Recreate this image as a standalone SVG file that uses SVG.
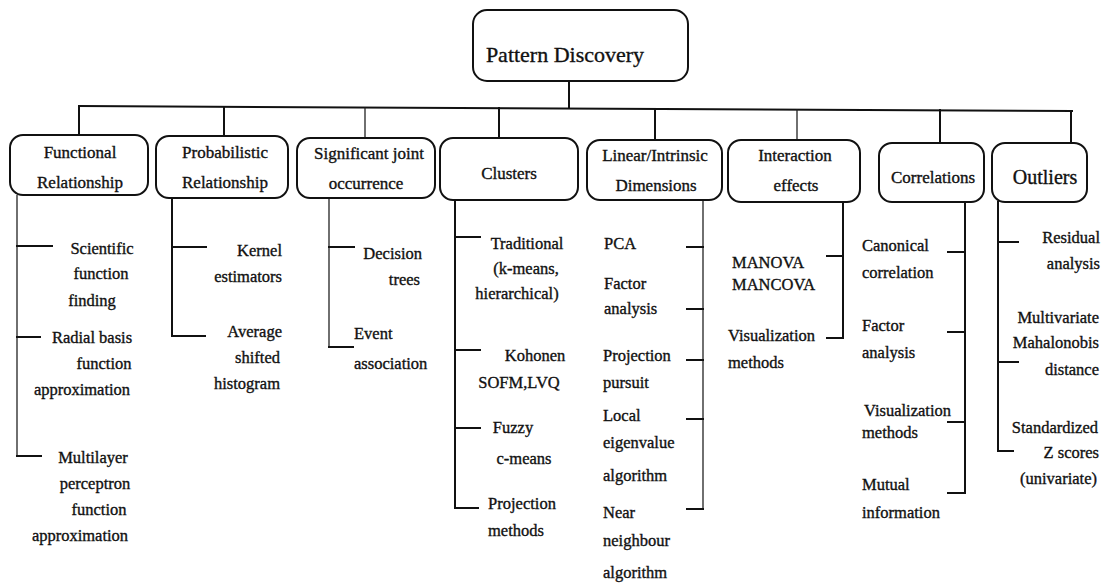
<svg xmlns="http://www.w3.org/2000/svg" width="1107" height="584" viewBox="0 0 1107 584">
  <style>
    .box { fill: #ffffff; stroke: #111; stroke-width: 2; }
    .ln { stroke: #111; stroke-width: 2; fill: none; stroke-linecap: square; }
    .thin { stroke: #222; stroke-width: 1.3; fill: none; }
    text { font-family: "Liberation Serif", "Times New Roman", serif; fill: #111; stroke: #111; stroke-width: 0.35; }
    .t0 { font-size: 22px; text-anchor: middle; }
    .t1 { font-size: 17px; text-anchor: middle; }
    .t1b { font-size: 20px; text-anchor: middle; }
    .c { font-size: 16.5px; text-anchor: middle; }
    .s { font-size: 16.5px; text-anchor: start; }
    .e { font-size: 16.5px; text-anchor: end; }
  </style>

  <rect width="1107" height="584" fill="#ffffff"/>

  <!-- connectors: root stem, bus, drops and child brackets -->
  <g id="connectors">
    <line class="ln" x1="569" y1="81" x2="569" y2="107"/>
    <line class="ln" x1="79" y1="106" x2="1072" y2="111"/>
    <line class="ln" x1="79" y1="106" x2="79" y2="135"/>
    <line class="ln" x1="224" y1="107" x2="224" y2="136"/>
    <line class="thin" x1="365" y1="107.5" x2="365" y2="138"/>
    <line class="ln" x1="499" y1="108" x2="499" y2="138"/>
    <line class="ln" x1="655" y1="109" x2="655" y2="140"/>
    <line class="thin" x1="797" y1="109.5" x2="797" y2="140"/>
    <line class="ln" x1="940" y1="110" x2="940" y2="143"/>
    <line class="ln" x1="1071" y1="111" x2="1071" y2="143"/>

    <!-- Functional Relationship -->
    <line class="thin" x1="17" y1="195" x2="17" y2="457"/>
    <line class="ln" x1="17" y1="246" x2="52" y2="246"/>
    <line class="ln" x1="17" y1="337" x2="40" y2="337"/>
    <line class="ln" x1="17" y1="456" x2="41" y2="456"/>

    <!-- Probabilistic Relationship -->
    <line class="ln" x1="172" y1="198" x2="172" y2="336"/>
    <line class="ln" x1="172" y1="247" x2="206" y2="247"/>
    <line class="ln" x1="172" y1="336" x2="205" y2="336"/>

    <!-- Significant joint occurrence -->
    <line class="thin" x1="329" y1="198" x2="329" y2="347"/>
    <line class="ln" x1="329" y1="247" x2="354" y2="247"/>
    <line class="ln" x1="329" y1="347" x2="353" y2="347"/>

    <!-- Clusters -->
    <line class="ln" x1="455" y1="200" x2="455" y2="508"/>
    <line class="ln" x1="455" y1="237" x2="480" y2="237"/>
    <line class="ln" x1="455" y1="350" x2="480" y2="350"/>
    <line class="ln" x1="455" y1="428" x2="480" y2="428"/>
    <line class="ln" x1="455" y1="508" x2="478" y2="508"/>

    <!-- Linear/Intrinsic Dimensions -->
    <line class="thin" x1="703" y1="200" x2="703" y2="509"/>
    <line class="ln" x1="687" y1="247" x2="703" y2="247"/>
    <line class="ln" x1="687" y1="309" x2="703" y2="309"/>
    <line class="ln" x1="687" y1="360" x2="703" y2="360"/>
    <line class="ln" x1="687" y1="419" x2="703" y2="419"/>
    <line class="ln" x1="687" y1="509" x2="703" y2="509"/>

    <!-- Interaction effects -->
    <line class="ln" x1="843" y1="202" x2="843" y2="338"/>
    <line class="ln" x1="827" y1="256" x2="843" y2="256"/>
    <line class="ln" x1="827" y1="338" x2="843" y2="338"/>

    <!-- Correlations -->
    <line class="ln" x1="965" y1="202" x2="965" y2="493"/>
    <line class="ln" x1="948" y1="252" x2="965" y2="252"/>
    <line class="ln" x1="948" y1="332" x2="965" y2="332"/>
    <line class="ln" x1="948" y1="422" x2="965" y2="422"/>
    <line class="ln" x1="948" y1="493" x2="965" y2="493"/>

    <!-- Outliers -->
    <line class="ln" x1="998" y1="202" x2="998" y2="451"/>
    <line class="ln" x1="998" y1="242" x2="1018" y2="242"/>
    <line class="ln" x1="998" y1="362" x2="1018" y2="362"/>
    <line class="ln" x1="998" y1="451" x2="1013" y2="451"/>
  </g>

  <!-- root -->
  <g id="pattern-discovery">
    <rect class="box" x="473" y="10" width="215" height="71" rx="14"/>
    <text class="t0" x="565" y="62">Pattern Discovery</text>
  </g>

  <!-- categories with their methods -->
  <g id="functional-relationship">
    <rect class="box" x="10" y="135" width="138" height="60" rx="13"/>
    <text class="t1" x="80" y="158">Functional</text>
    <text class="t1" x="80" y="188">Relationship</text>
    <text class="c" x="102" y="254">Scientific</text>
    <text class="c" x="101" y="279">function</text>
    <text class="c" x="92" y="306">finding</text>
    <text class="c" x="92" y="343">Radial basis</text>
    <text class="c" x="104" y="369">function</text>
    <text class="c" x="82" y="395">approximation</text>
    <text class="c" x="93" y="463">Multilayer</text>
    <text class="c" x="95" y="489">perceptron</text>
    <text class="c" x="99" y="515">function</text>
    <text class="c" x="80" y="541">approximation</text>
  </g>

  <g id="probabilistic-relationship">
    <rect class="box" x="156" y="136" width="132" height="62" rx="13"/>
    <text class="t1" x="225" y="158">Probabilistic</text>
    <text class="t1" x="225" y="188">Relationship</text>
    <text class="e" x="282" y="256">Kernel</text>
    <text class="e" x="282" y="282">estimators</text>
    <text class="e" x="282" y="337">Average</text>
    <text class="e" x="280" y="363">shifted</text>
    <text class="e" x="280" y="389">histogram</text>
  </g>

  <g id="significant-joint-occurrence">
    <rect class="box" x="297" y="138" width="138" height="60" rx="13"/>
    <text class="t1" x="369" y="159">Significant joint</text>
    <text class="t1" x="366" y="189">occurrence</text>
    <text class="e" x="422" y="259">Decision</text>
    <text class="e" x="420" y="285">trees</text>
    <text class="s" x="354" y="339">Event</text>
    <text class="s" x="354" y="369">association</text>
  </g>

  <g id="clusters">
    <rect class="box" x="440" y="138" width="138" height="62" rx="13"/>
    <text class="t1" x="509" y="179">Clusters</text>
    <text class="c" x="527" y="249">Traditional</text>
    <text class="c" x="526" y="274">(k-means,</text>
    <text class="c" x="517" y="299">hierarchical)</text>
    <text class="c" x="535" y="361">Kohonen</text>
    <text class="c" x="519" y="388">SOFM,LVQ</text>
    <text class="c" x="513" y="433">Fuzzy</text>
    <text class="c" x="524" y="464">c-means</text>
    <text class="c" x="522" y="509">Projection</text>
    <text class="c" x="516" y="536">methods</text>
  </g>

  <g id="linear-intrinsic-dimensions">
    <rect class="box" x="587" y="140" width="135" height="60" rx="13"/>
    <text class="t1" x="655" y="161">Linear/Intrinsic</text>
    <text class="t1" x="656" y="191">Dimensions</text>
    <text class="s" x="604" y="249">PCA</text>
    <text class="s" x="604" y="289">Factor</text>
    <text class="s" x="604" y="314">analysis</text>
    <text class="s" x="603" y="361">Projection</text>
    <text class="s" x="603" y="388">pursuit</text>
    <text class="s" x="603" y="421">Local</text>
    <text class="s" x="603" y="448">eigenvalue</text>
    <text class="s" x="603" y="481">algorithm</text>
    <text class="s" x="603" y="518">Near</text>
    <text class="s" x="603" y="546">neighbour</text>
    <text class="s" x="603" y="578">algorithm</text>
  </g>

  <g id="interaction-effects">
    <rect class="box" x="728" y="140" width="132" height="62" rx="13"/>
    <text class="t1" x="795" y="161">Interaction</text>
    <text class="t1" x="796" y="191">effects</text>
    <text class="s" x="732" y="268">MANOVA</text>
    <text class="s" x="732" y="290">MANCOVA</text>
    <text class="s" x="728" y="341">Visualization</text>
    <text class="s" x="728" y="368">methods</text>
  </g>

  <g id="correlations">
    <rect class="box" x="879" y="143" width="105" height="59" rx="13"/>
    <text class="t1" x="933" y="183">Correlations</text>
    <text class="s" x="862" y="251">Canonical</text>
    <text class="s" x="862" y="278">correlation</text>
    <text class="s" x="862" y="331">Factor</text>
    <text class="s" x="862" y="358">analysis</text>
    <text class="s" x="864" y="416">Visualization</text>
    <text class="s" x="862" y="438">methods</text>
    <text class="s" x="862" y="490">Mutual</text>
    <text class="s" x="862" y="518">information</text>
  </g>

  <g id="outliers">
    <rect class="box" x="992" y="143" width="95" height="59" rx="13"/>
    <text class="t1b" x="1045" y="184">Outliers</text>
    <text class="e" x="1100" y="243">Residual</text>
    <text class="e" x="1100" y="269">analysis</text>
    <text class="e" x="1099" y="323">Multivariate</text>
    <text class="e" x="1099" y="348">Mahalonobis</text>
    <text class="e" x="1099" y="375">distance</text>
    <text class="e" x="1098" y="433">Standardized</text>
    <text class="e" x="1099" y="458">Z scores</text>
    <text class="e" x="1097" y="484">(univariate)</text>
  </g>
</svg>
